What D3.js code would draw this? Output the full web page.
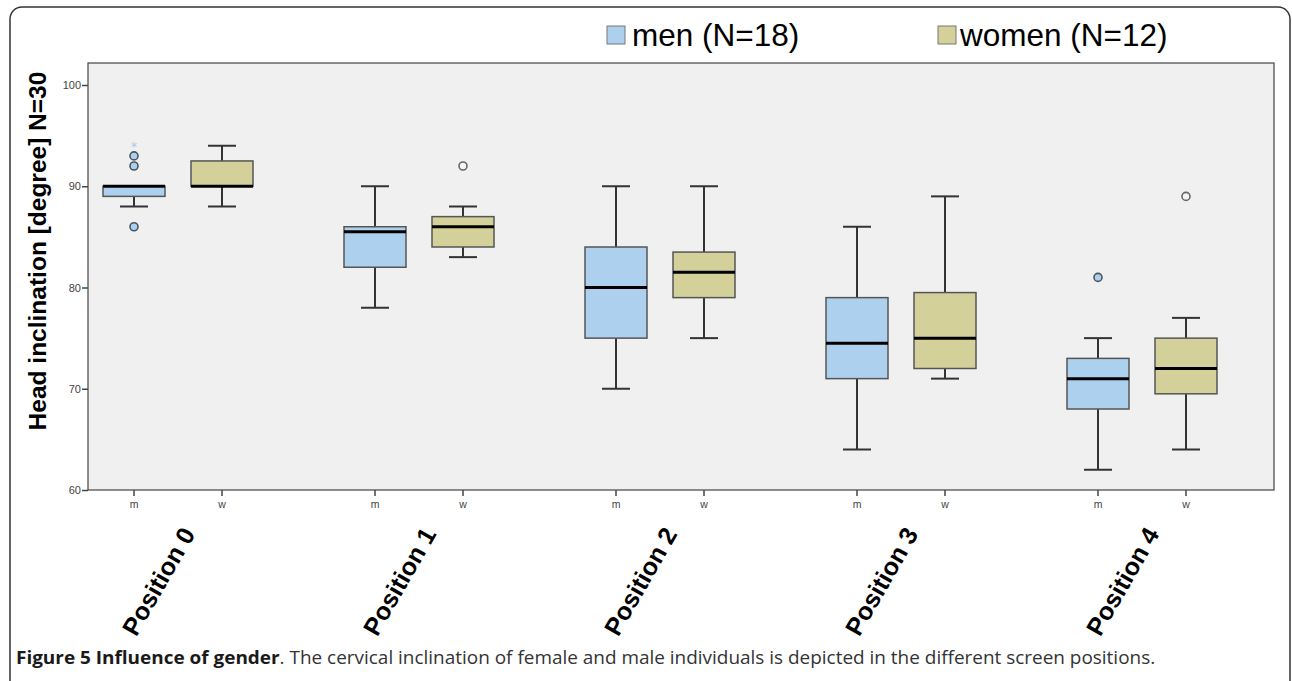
<!DOCTYPE html>
<html>
<head>
<meta charset="utf-8">
<script src="https://cdn.jsdelivr.net/npm/d3@7"></script>
<style>
  html, body { margin: 0; padding: 0; background: #fff; }
  svg { display: block; }
</style>
</head>
<body>
<svg id="chart" width="1292" height="681"></svg>
<script>
// ---------- data ----------
const positions = ["Position 0", "Position 1", "Position 2", "Position 3", "Position 4"];
const genders = ["m", "w"];
const yTicks = [60, 70, 80, 90, 100];

const menLow    = [88, 78, 70, 64, 62];
const menQ1     = [89, 82, 75, 71, 68];
const menMedian = [90, 85.5, 80, 74.5, 71];
const menQ3     = [90, 86, 84, 79, 73];
const menHigh   = [90, 90, 90, 86, 75];
const menOutliers = [[93, 92, 86], [], [], [], [81]];
const menExtremes = [[94], [], [], [], []];

const womenLow    = [88, 83, 75, 71, 64];
const womenQ1     = [90, 84, 79, 72, 69.5];
const womenMedian = [90, 86, 81.5, 75, 72];
const womenQ3     = [92.5, 87, 83.5, 79.5, 75];
const womenHigh   = [94, 88, 90, 89, 77];
const womenOutliers = [[], [92], [], [], [89]];
const womenExtremes = [[], [], [], [], []];

const legendLabels = ["men (N=18)", "women (N=12)"];
const yTitle = "Head inclination [degree] N=30";
const captionBold = "Figure 5 Influence of gender";
const captionRest = ". The cervical inclination of female and male individuals is depicted in the different screen positions.";

// ---------- build table ----------
const boxes = [];
positions.forEach((p, i) => {
  boxes.push({pos: p, g: "m", low: menLow[i], q1: menQ1[i], med: menMedian[i], q3: menQ3[i], high: menHigh[i], out: menOutliers[i], ext: menExtremes[i]});
  boxes.push({pos: p, g: "w", low: womenLow[i], q1: womenQ1[i], med: womenMedian[i], q3: womenQ3[i], high: womenHigh[i], out: womenOutliers[i], ext: womenExtremes[i]});
});

const fill = {m: "#aed0ef", w: "#d4d09a"};

// ---------- layout ----------
const svg = d3.select("#chart");
const plot = {left: 88, right: 1274, top: 63, bottom: 490};

const y = d3.scaleLinear().domain([60, 100]).range([490, 85]);
const xGroup = d3.scalePoint().domain(positions).range([178, 1142]);
const xSub = d3.scalePoint().domain(genders).range([-44, 44]);
const xc = d => xGroup(d.pos) + xSub(d.g);
const boxW = 62, capW = 28;

// outer rounded frame
svg.append("rect")
  .attr("x", 10).attr("y", 7).attr("width", 1280).attr("height", 690)
  .attr("rx", 12).attr("ry", 12)
  .attr("fill", "none").attr("stroke", "#333").attr("stroke-width", 1.5);

// plot background
svg.append("rect")
  .attr("x", plot.left).attr("y", plot.top)
  .attr("width", plot.right - plot.left).attr("height", plot.bottom - plot.top)
  .attr("fill", "#f0f0f0").attr("stroke", "#444").attr("stroke-width", 1.2);

// y axis
const yAxis = svg.append("g")
  .attr("transform", `translate(${plot.left},0)`)
  .call(d3.axisLeft(y).tickValues(yTicks).tickSize(6).tickPadding(1).tickFormat(d3.format("d")));
yAxis.select(".domain").remove();
yAxis.selectAll(".tick line").attr("stroke", "#444").attr("stroke-width", 1.5);
yAxis.selectAll(".tick text")
  .attr("font-family", "Liberation Sans, Arial, sans-serif")
  .attr("font-size", 11).attr("fill", "#444");

// x ticks (m / w)
const xt = svg.append("g").selectAll("g").data(boxes).join("g")
  .attr("transform", d => `translate(${xc(d)},${plot.bottom})`);
xt.append("line").attr("y1", 0).attr("y2", 6).attr("stroke", "#444").attr("stroke-width", 1.5);
xt.append("text").attr("y", 18).attr("text-anchor", "middle")
  .attr("font-family", "Liberation Sans, Arial, sans-serif")
  .attr("font-size", 10.5).attr("fill", "#444").text(d => d.g);

// boxes
const bx = svg.append("g").selectAll("g").data(boxes).join("g");
// whiskers
bx.append("line").attr("x1", xc).attr("x2", xc).attr("y1", d => y(d.q3)).attr("y2", d => y(d.high))
  .attr("stroke", "#333").attr("stroke-width", 2);
bx.append("line").attr("x1", xc).attr("x2", xc).attr("y1", d => y(d.q1)).attr("y2", d => y(d.low))
  .attr("stroke", "#333").attr("stroke-width", 2);
bx.append("line").attr("x1", d => xc(d) - capW / 2).attr("x2", d => xc(d) + capW / 2)
  .attr("y1", d => y(d.high)).attr("y2", d => y(d.high)).attr("stroke", "#333").attr("stroke-width", 2);
bx.append("line").attr("x1", d => xc(d) - capW / 2).attr("x2", d => xc(d) + capW / 2)
  .attr("y1", d => y(d.low)).attr("y2", d => y(d.low)).attr("stroke", "#333").attr("stroke-width", 2);
// box
bx.append("rect")
  .attr("x", d => xc(d) - boxW / 2).attr("width", boxW)
  .attr("y", d => y(d.q3)).attr("height", d => y(d.q1) - y(d.q3))
  .attr("fill", d => fill[d.g]).attr("stroke", "#555").attr("stroke-width", 1.5);
// median
bx.append("line").attr("x1", d => xc(d) - boxW / 2).attr("x2", d => xc(d) + boxW / 2)
  .attr("y1", d => y(d.med)).attr("y2", d => y(d.med)).attr("stroke", "#000").attr("stroke-width", 3);

// outliers
bx.each(function(d) {
  const g = d3.select(this);
  g.selectAll("circle").data(d.out).join("circle")
    .attr("cx", xc(d)).attr("cy", v => y(v)).attr("r", 4)
    .attr("fill", d.g === "m" ? fill.m : "#f4f4f4")
    .attr("stroke", d.g === "m" ? "#4a5560" : "#666").attr("stroke-width", 1.6);
  g.selectAll("text.ext").data(d.ext).join("text").attr("class", "ext")
    .attr("x", xc(d)).attr("y", v => y(v) + 5).attr("text-anchor", "middle")
    .attr("font-family", "DejaVu Sans, sans-serif").attr("font-size", 12)
    .attr("fill", "#a8c8ea").text("*");
});

// y title
svg.append("text")
  .attr("transform", `translate(46,251) rotate(-90)`)
  .attr("text-anchor", "middle")
  .attr("font-family", "Liberation Sans, Arial, sans-serif")
  .attr("font-weight", "bold").attr("font-size", 24.5).attr("fill", "#000")
  .text(yTitle);

// position labels
svg.append("g").selectAll("text").data(positions).join("text")
  .attr("transform", d => `translate(${xGroup(d) + 18},534) rotate(-60)`)
  .attr("text-anchor", "end")
  .attr("font-family", "Liberation Sans, Arial, sans-serif")
  .attr("font-weight", "bold").attr("font-size", 25).attr("fill", "#000")
  .text(d => d);

// legend
const legX = [607, 938];
const legTextX = [632, 960];
const leg = svg.append("g").selectAll("g").data(genders).join("g");
leg.append("rect").attr("x", (d, i) => legX[i]).attr("y", 26).attr("width", 18).attr("height", 18)
  .attr("fill", d => fill[d]).attr("stroke", "#777").attr("stroke-width", 1);
leg.append("text").attr("x", (d, i) => legTextX[i]).attr("y", 46)
  .attr("font-family", "Liberation Sans, Arial, sans-serif")
  .attr("font-size", 31.5).attr("fill", "#000")
  .text((d, i) => legendLabels[i]);

// caption
const cap = svg.append("g");
const capText = cap.append("text").attr("x", 0).attr("y", 0)
  .attr("font-family", "Open Sans, sans-serif").attr("font-size", 18);
capText.append("tspan").attr("font-weight", "bold").attr("fill", "#1a1a1a").text(captionBold);
capText.append("tspan").attr("fill", "#333").text(captionRest);
const capLen = capText.node().getComputedTextLength();
cap.attr("transform", `translate(16,664) scale(${1140 / capLen},1)`);
</script>
</body>
</html>
